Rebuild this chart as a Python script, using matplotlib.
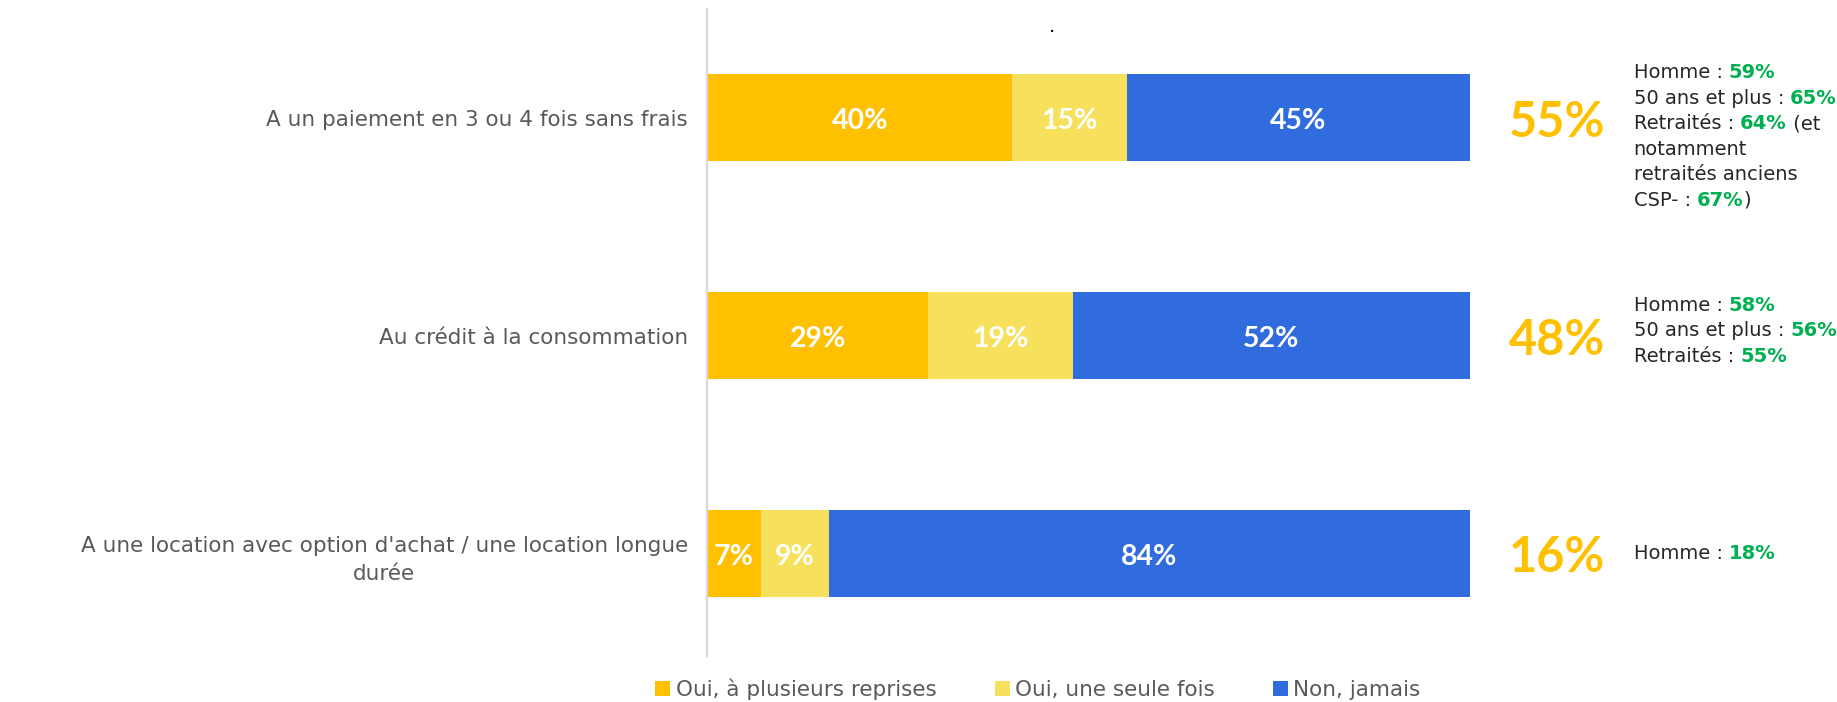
import matplotlib
matplotlib.use("Agg")
from matplotlib import pyplot as plt
from matplotlib.patches import Patch

plt.rcParams['font.family'] = ['DejaVu Sans']
BOLD_FONT = ['Lato', 'DejaVu Sans']

# data
categories = [
    "A un paiement en 3 ou 4 fois sans frais",
    "Au crédit à la consommation",
    "A une location avec option d'achat / une location longue\ndurée",
]
series_names = ["Oui, à plusieurs reprises", "Oui, une seule fois", "Non, jamais"]
oui_plusieurs = [40, 29, 7]
oui_une_fois = [15, 19, 9]
non_jamais = [45, 52, 84]

# sub-group notes: each line is a list of (text, is_highlight)
notes = [
    [
        [("Homme : ", False), ("59%", True)],
        [("50 ans et plus : ", False), ("65%", True)],
        [("Retraités : ", False), ("64%", True), (" (et", False)],
        [("notamment", False)],
        [("retraités anciens", False)],
        [("CSP- : ", False), ("67%", True), (")", False)],
    ],
    [
        [("Homme : ", False), ("58%", True)],
        [("50 ans et plus : ", False), ("56%", True)],
        [("Retraités : ", False), ("55%", True)],
    ],
    [
        [("Homme : ", False), ("18%", True)],
    ],
]

colors = ["#FFC000", "#F7E05B", "#306CDE"]
grey = "#595959"
green = "#00B050"

fig = plt.figure(figsize=(18.37, 7.02), dpi=100)
ax = fig.add_axes([0.385, 0.0655, 0.415, 0.922])

ypos = list(range(len(categories)))
left = [0] * len(categories)
for vals, col, name in zip([oui_plusieurs, oui_une_fois, non_jamais], colors, series_names):
    bars = ax.barh(ypos, vals, left=left, height=0.4, color=col, label=name)
    for b, v in zip(bars, vals):
        ax.text(b.get_x() + b.get_width() / 2, b.get_y() + b.get_height() / 2 + 0.015, f"{v}%",
                ha='center', va='center', color='white', fontsize=20.5, fontweight='bold',
                family=BOLD_FONT)
    left = [l + v for l, v in zip(left, vals)]

ax.set_xlim(0, 100)
ax.set_ylim(2.47, -0.5)
ax.set_xticks([])
ax.set_yticks(ypos, labels=categories)
ax.tick_params(axis='y', length=0, pad=14, labelsize=15.5, labelcolor=grey)
for lbl in ax.get_yticklabels():
    lbl.set_multialignment('center')
    lbl.set_linespacing(1.5)
for s in ['top', 'right', 'bottom']:
    ax.spines[s].set_visible(False)
ax.spines['left'].set_color('#D9D9D9')
ax.spines['left'].set_linewidth(1.6)

# totals "oui" on the right + notes
note_shift = [0.087, -0.023, 0.0]
step = 0.117
for i in ypos:
    total = oui_plusieurs[i] + oui_une_fois[i]
    ax.text(111.5, i + 0.02, f"{total}%", ha='center', va='center', color="#FFC000",
            fontsize=35, fontweight='bold', family=BOLD_FONT)
    lines = notes[i]
    n = len(lines)
    for k, line in enumerate(lines):
        y = i + note_shift[i] + (k - (n - 1) / 2) * step
        prev = None
        for txt, hl in line:
            kw = dict(color=green if hl else "#262626", fontsize=14,
                      fontweight='bold' if hl else 'normal')
            if prev is None:
                prev = ax.text(121.5, y, txt, ha='left', va='center', **kw)
            else:
                prev = ax.annotate(txt, xy=(1, 0), xycoords=prev, ha='left', va='bottom', **kw)

fig.text(1052 / 1837, 1 - 26 / 702, ".", ha='center', va='center', fontsize=14, color='black')

handles = [Patch(facecolor=c, edgecolor='none') for c in colors]
fig.legend(handles, series_names, loc='center', bbox_to_anchor=(0.565, 0.0185), ncol=3,
           frameon=False, fontsize=15.5, labelcolor=grey, handlelength=0.7, handleheight=0.7,
           handletextpad=0.25, columnspacing=2.7)

fig.savefig("out.png", dpi=100)
